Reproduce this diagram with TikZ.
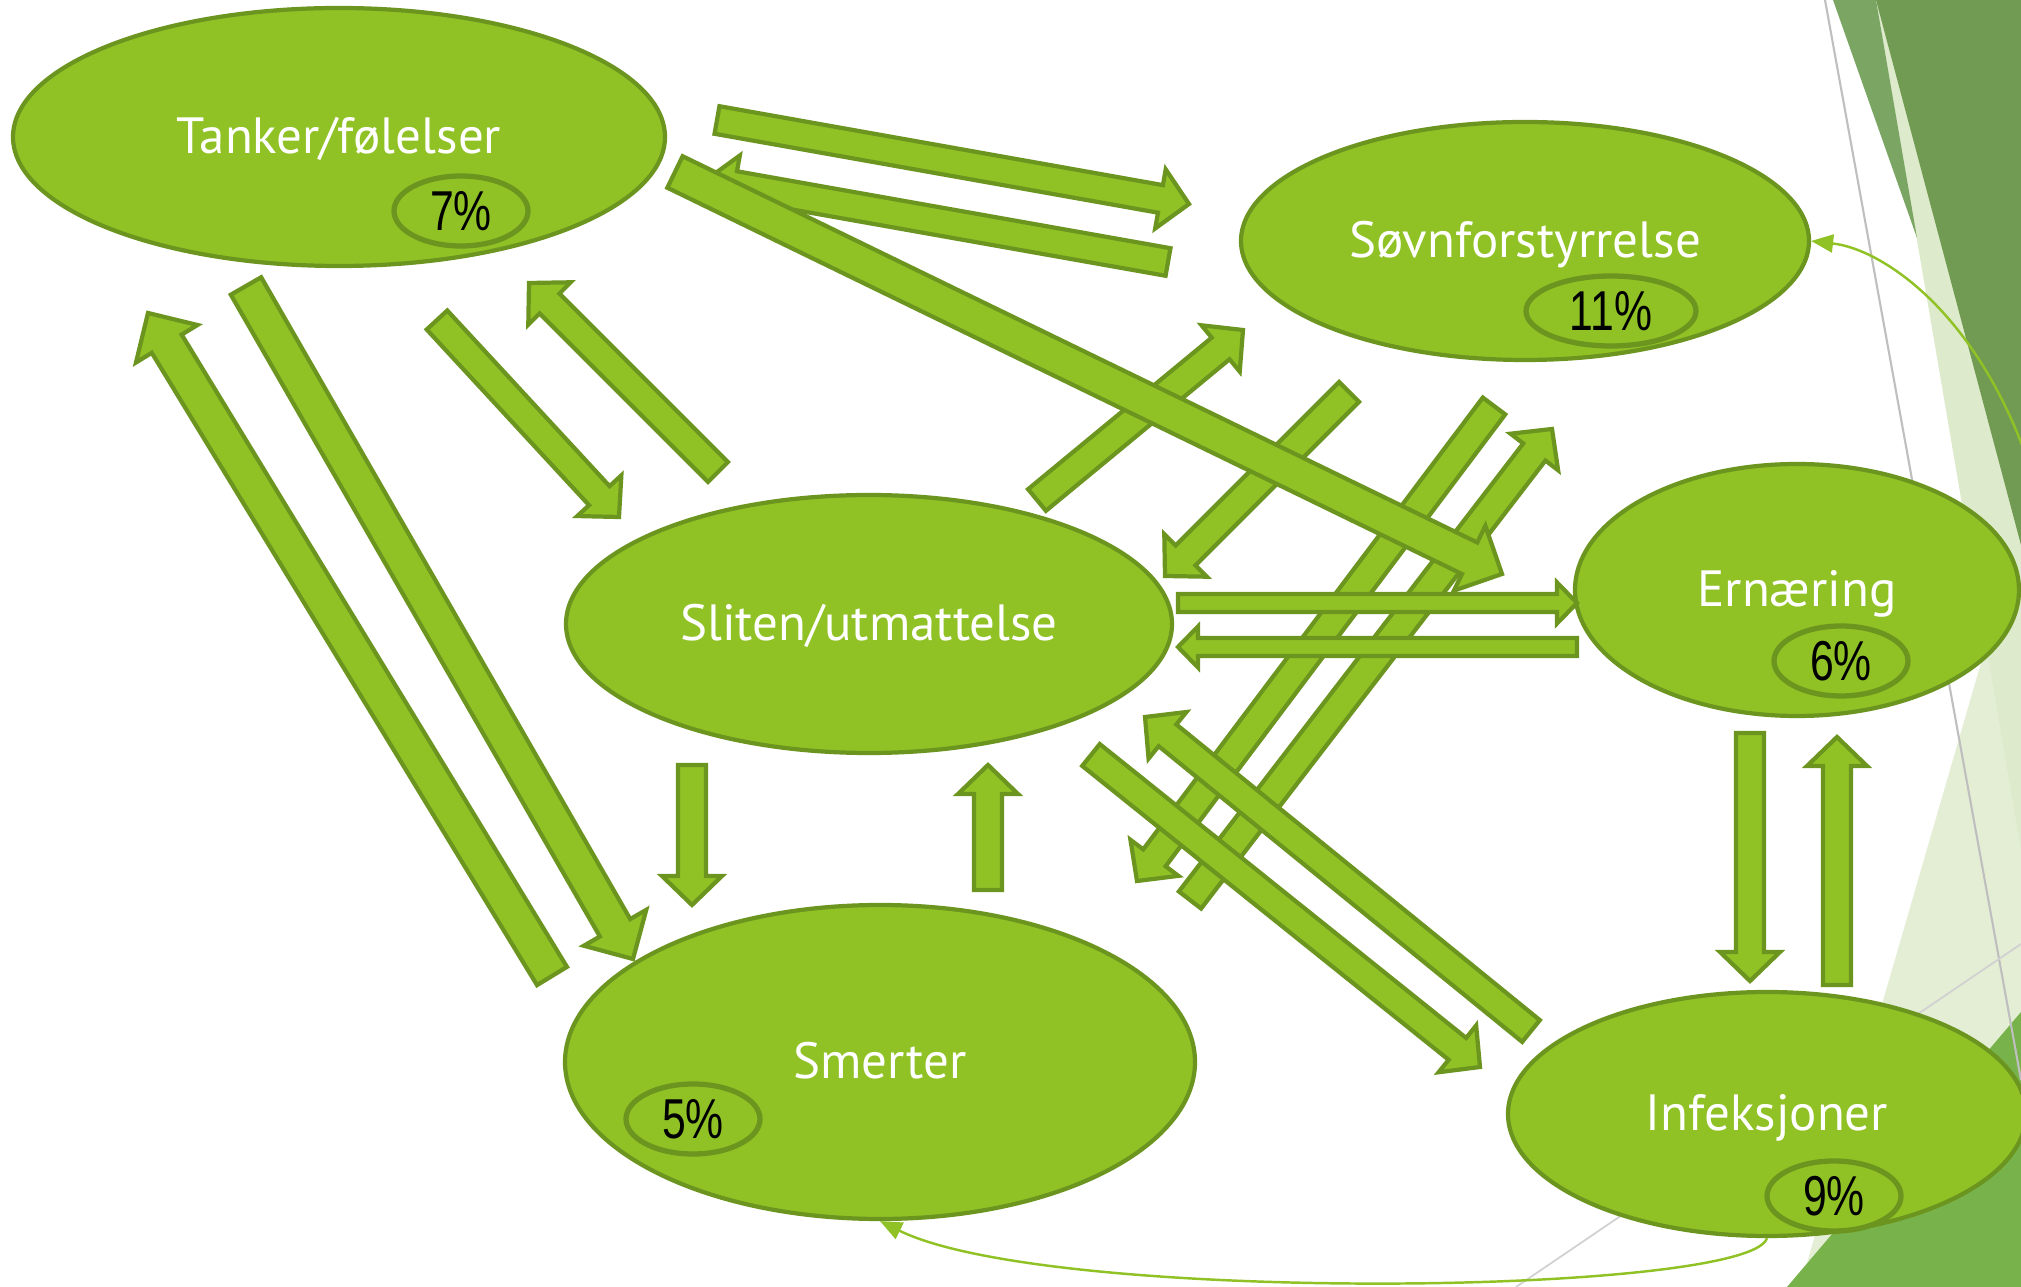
\documentclass[tikz,border=0pt]{standalone}
\usepackage{fontspec}
\setmainfont{PT Sans}
\newfontfamily\pctfont[FakeStretch=0.76]{Liberation Sans}
\usetikzlibrary{calc,shapes.geometric,arrows.meta}

\definecolor{leaf}{HTML}{90C226}
\definecolor{leafdark}{HTML}{6B951F}
\definecolor{facetdark}{HTML}{719B52}
\definecolor{facetmid}{HTML}{7AA562}
\definecolor{facetpale}{HTML}{DDEACB}
\definecolor{facetgreen}{HTML}{78B24B}

% block arrow: [shaft half width/head half width/head length]{tail}{tip}
\def\arrdims#1/#2/#3\relax{\def\arrW{#1}\def\arrH{#2}\def\arrL{#3}}
\newcommand\blockarrow[3][1.4mm/3mm/2.9mm]{%
  \arrdims#1\relax
  \coordinate (hb) at ($(#3)!\arrL!(#2)$);
  \draw[barr] ($(#2)!\arrW!90:(#3)$) -- ($(hb)!\arrW!90:(#3)$) -- ($(hb)!\arrH!90:(#3)$) -- (#3)
    -- ($(hb)!\arrH!-90:(#3)$) -- ($(hb)!\arrW!-90:(#3)$) -- ($(#2)!\arrW!-90:(#3)$) -- cycle;}

\begin{document}
\begin{tikzpicture}[x=0.1mm, y=-0.1mm,
    blob/.style={draw=leafdark, fill=leaf, ellipse, line width=1.2pt, inner sep=0pt,
      text=white, text height=3.5mm, text depth=0.15mm, font=\fontsize{14.5}{17}\selectfont},
    pct/.style={draw=leafdark, fill=leaf, ellipse, line width=1.5pt, inner sep=0pt,
      minimum width=13.4mm, minimum height=7mm, font=\pctfont\fontsize{16}{18}\selectfont},
    barr/.style={draw=leafdark, fill=leaf, line width=1.2pt},
    thinarr/.style={draw=leaf, line width=0.7pt, -{Triangle[length=2.2mm,width=1.8mm]}}]
    \useasboundingbox (0,0) rectangle (2021,1287);
    \fill[white] (0,0) rectangle (2021,1287);

    % facet background on the right
    \begin{scope}
      \clip (0,0) rectangle (2021,1287);
      \fill[facetpale] (1876,0) -- (2021,850) -- (2021,0) -- cycle;
      \fill[facetpale, opacity=0.8] (1800,1287) -- (2021,525) -- (2021,1287) -- cycle;
      \fill[facetmid] (1833,0) -- (1876,0) -- (1917,238) -- cycle;
      \fill[facetdark] (1876,0) -- (2021,0) -- (2021,545) -- cycle;
      \fill[facetgreen] (1787,1287) -- (2021,1012) -- (2021,1287) -- cycle;
      \draw[black!25, line width=0.6pt] (1825,0) -- (2021,1080);
      \draw[black!18, line width=0.5pt] (1516,1287) -- (2021,944);
    \end{scope}

    \node[blob, minimum width=65.2mm, minimum height=25.8mm] (tank) at (339,137)  {Tanker/følelser};
    \node[blob, minimum width=56.8mm, minimum height=23.8mm] (sovn) at (1525,241) {Søvnforstyrrelse};
    \node[blob, minimum width=60.6mm, minimum height=25.8mm] (slit) at (869,624)  {Sliten/utmattelse};
    \node[blob, minimum width=44.4mm, minimum height=25.2mm] (ern)  at (1797,590) {Ernæring};
    \node[blob, minimum width=63mm,   minimum height=31.4mm] (smer) at (880,1062) {Smerter};
    \node[blob, minimum width=51.8mm, minimum height=24.4mm] (inf)  at (1767,1114) {Infeksjoner};

    \node[pct] (p7)  at (461,211)  {7\%};
    \node[pct, minimum width=17mm] (p11) at (1611,311) {11\%};
    \node[pct] (p6)  at (1841,661) {6\%};
    \node[pct] (p5)  at (693,1119) {5\%};
    \node[pct] (p9)  at (1834,1196) {9\%};

    % ends of the block arrows
    \coordinate (ts-a) at (717,120);   \coordinate (ts-b) at (1189,204);
    \coordinate (st-a) at (1168,262);  \coordinate (st-b) at (706,180);
    \coordinate (te-a) at (675,172);   \coordinate (te-b) at (1502,574);
    \coordinate (tl-a) at (437,320);   \coordinate (tl-b) at (619,517);
    \coordinate (lt-a) at (718,472);   \coordinate (lt-b) at (529,283);
    \coordinate (tm-a) at (246,286);   \coordinate (tm-b) at (633,959);
    \coordinate (mt-a) at (552,976);   \coordinate (mt-b) at (148,313);
    \coordinate (ls-a) at (1037,500);  \coordinate (ls-b) at (1243,330);
    \coordinate (sl-a) at (1349,392);  \coordinate (sl-b) at (1165,576);
    \coordinate (sm-a) at (1494,406);  \coordinate (sm-b) at (1137,881);
    \coordinate (ms-a) at (1190,900);  \coordinate (ms-b) at (1552,429);
    \coordinate (le-a) at (1178,603);  \coordinate (le-b) at (1577,603);
    \coordinate (el-a) at (1577,647);  \coordinate (el-b) at (1178,647);
    \coordinate (li-a) at (1091,755);  \coordinate (li-b) at (1480,1067);
    \coordinate (il-a) at (1531,1031); \coordinate (il-b) at (1145,717);
    \coordinate (lm-a) at (692,765);   \coordinate (lm-b) at (692,905);
    \coordinate (ml-a) at (988,890);   \coordinate (ml-b) at (988,765);
    \coordinate (ei-a) at (1750,733);  \coordinate (ei-b) at (1750,981);
    \coordinate (ie-a) at (1837,985);  \coordinate (ie-b) at (1837,737);

    \blockarrow{st-a}{st-b}
    \blockarrow{ls-a}{ls-b}
    \blockarrow{sl-a}{sl-b}
    \blockarrow{sm-a}{sm-b}
    \blockarrow{ms-a}{ms-b}
    \blockarrow{li-a}{li-b}
    \blockarrow{il-a}{il-b}
    \blockarrow[0.9mm/2.05mm/2mm]{le-a}{le-b}
    \blockarrow[0.9mm/2.05mm/2mm]{el-a}{el-b}
    \blockarrow[1.75mm/3.6mm/3.6mm]{te-a}{te-b}
    \blockarrow{ts-a}{ts-b}
    \blockarrow{tl-a}{tl-b}
    \blockarrow{lt-a}{lt-b}
    \blockarrow[1.75mm/3.6mm/3.6mm]{tm-a}{tm-b}
    \blockarrow[1.75mm/3.6mm/3.6mm]{mt-a}{mt-b}
    \blockarrow{lm-a}{lm-b}
    \blockarrow{ml-a}{ml-b}
    \blockarrow{ei-a}{ei-b}
    \blockarrow{ie-a}{ie-b}

    % thin curved arrows
    \coordinate (loop-in) at (2045,520);
    \draw[thinarr] (loop-in) .. controls (2000,330) and (1890,250) .. (sovn.east);
    \draw[thinarr] (inf.south) .. controls (1750,1295) and (1050,1305) .. (smer.south);
\end{tikzpicture}
\end{document}
